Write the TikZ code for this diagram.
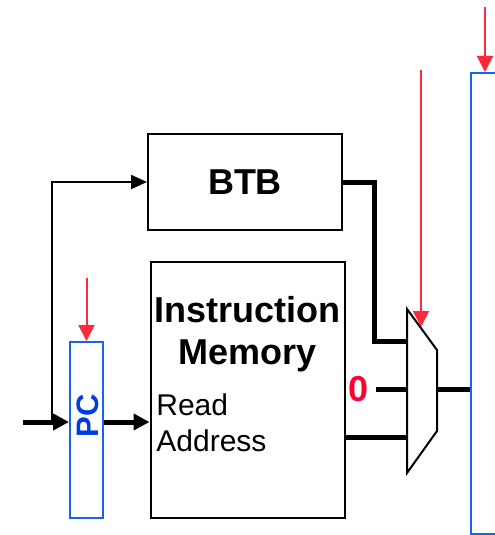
\documentclass[tikz,border=0pt]{standalone}
\usepackage{fontspec}
\setmainfont{Liberation Sans}
\usepackage{tikz}
\usetikzlibrary{arrows.meta,positioning,calc}
\definecolor{regblue} {RGB}{ 20,100,240}
\definecolor{pcblue}  {RGB}{  0, 60,230}
\definecolor{clkred}  {RGB}{255, 40, 60}
\definecolor{zerored} {RGB}{255,  0, 50}
\tikzset{
  blk/.style={draw=black,line width=1pt,minimum width=97pt,
              inner sep=0pt},
  reg/.style={draw=regblue,line width=1pt,inner sep=0pt},
  bigtxt/.style={font=\fontsize{18}{21}\selectfont\bfseries,align=center},
  smalltxt/.style={font=\fontsize{15}{18}\selectfont,align=left,inner sep=0pt},
  wire/.style={line width=2.5pt},
  arrw/.style={wire,-{Triangle[length=8pt,width=8pt]}},
  thinarr/.style={line width=1pt,-{Triangle[length=8pt,width=7pt]}},
  clk/.style={line width=1pt,color=clkred,-{Triangle[length=8pt,width=8pt]}},
}
\begin{document}
\begin{tikzpicture}[x=0.5pt,y=-0.5pt]
  \useasboundingbox (0,0) rectangle (494,535);
  \node[blk,minimum height=48pt](btb) at (245,182){};
  \node[bigtxt](btblabel) at (btb.center){BTB};
  \node[blk,minimum height=128pt](im) at (247.5,390){};
  \node[bigtxt](imlabel) at (247.5,334){Instruction\\Memory};
  \node[smalltxt,anchor=north west](addr) at (156,393){Read\\Address};
  \node[reg,minimum width=16.5pt,minimum height=88pt](pc) at (86.5,430){};
  \node[rotate=90,font=\fontsize{15.5}{18}\selectfont\bfseries,text=pcblue](pclabel) at (87.5,416){PC};
  \node[reg,minimum width=40pt,minimum height=230.5pt,anchor=north west](fd) at (470,72){};
  \coordinate (mtl) at (407,309);
  \coordinate (mbl) at (407,473);
  \coordinate (mtr) at (437,350);
  \coordinate (mbr) at (437,431);
  \draw[line width=1pt,fill=white] (mtl)--(mtr)--(mbr)--(mbl)--cycle;
  \coordinate (m1) at (407,341);
  \coordinate (m0) at (407,389);
  \coordinate (m2) at (407,437);
  \coordinate (mout) at (437,389);
  \node[font=\fontsize{18}{21}\selectfont\bfseries,text=zerored](zero) at (359,389){0};
  \coordinate (in) at (23,422);
  \coordinate (split) at (52,422);
  \draw[wire](btb.east)--++(31,0)|-(m1);
  \draw[wire](zero.east)--(m0);
  \draw[wire](im.east|-m2)--(m2);
  \draw[wire](mout)--(fd.west|-mout);
  \draw[arrw](in)--(pc.west|-in);
  \draw[arrw](pc.east|-in)--(im.west|-in);
  \draw[thinarr](split)|-(btb.west);
  \coordinate (pcclk) at (pc.north|-0,278);
  \coordinate (muxclk) at (421,70);
  \coordinate (muxsel) at (421,327);
  \coordinate (fdclk) at (485,7);
  \draw[clk](pcclk)--(pc.north);
  \draw[clk](muxclk)--(muxsel);
  \draw[clk](fdclk)--(fdclk|-fd.north);
\end{tikzpicture}
\end{document}
